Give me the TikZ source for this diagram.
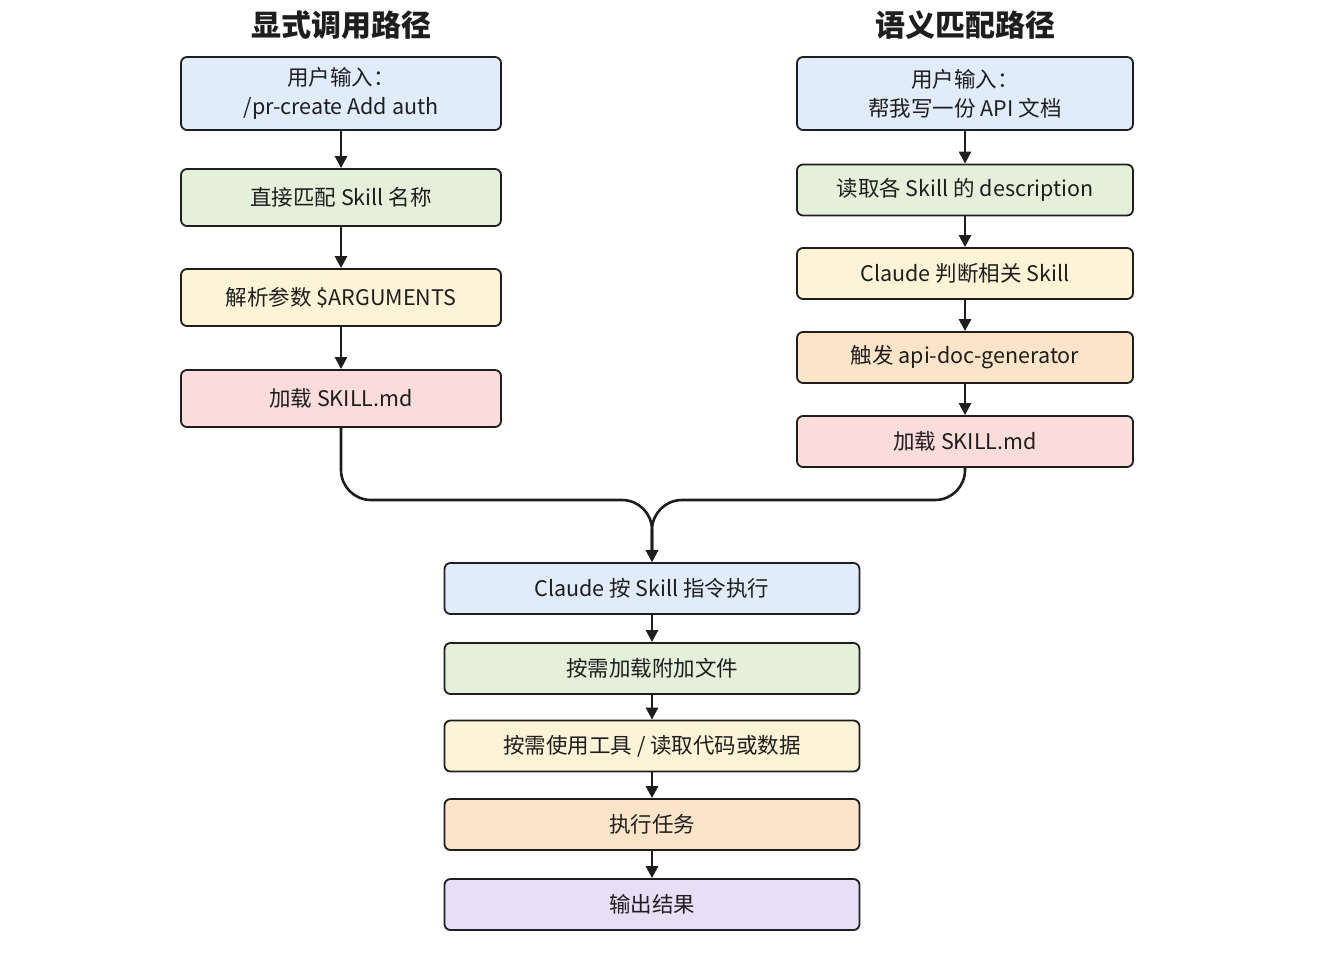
\documentclass[tikz,border=0pt]{standalone}
\usepackage{fontspec}
\setmainfont{Noto Sans CJK SC}
\usetikzlibrary{arrows.meta}
\definecolor{fblue}{RGB}{225,236,250}
\definecolor{fgreen}{RGB}{229,240,219}
\definecolor{fyellow}{RGB}{253,243,215}
\definecolor{forange}{RGB}{252,228,201}
\definecolor{fred}{RGB}{250,221,218}
\definecolor{fpurple}{RGB}{231,223,246}
\definecolor{ink}{RGB}{30,30,30}
\begin{document}
\begin{tikzpicture}[x=1pt,y=-1pt,
    flow/.style={draw=ink,line width=1.8pt,rounded corners=6pt,align=center,
      inner sep=0pt,text=ink,font=\fontsize{21.5}{29}\selectfont},
    lcol/.style={flow,minimum width=320pt,minimum height=57pt},
    rcol/.style={flow,minimum width=336pt,minimum height=51pt},
    bcol/.style={flow,minimum width=415pt,minimum height=51pt},
    arr/.style={-{Triangle[length=12pt,width=12pt]},line width=2.6pt,draw=ink}]
    \useasboundingbox (0,0) rectangle (1329,972);
    % titles
    \node[font=\fontsize{30}{34}\selectfont\bfseries,text=ink] (ltitle) at (341,25) {显式调用路径};
    \node[font=\fontsize{30}{34}\selectfont\bfseries,text=ink] (rtitle) at (965,25) {语义匹配路径};
    % left path
    \node[lcol,fill=fblue,minimum height=73pt] (l1) at (341,93.5) {用户输入：\\/pr-create Add auth};
    \node[lcol,fill=fgreen] (l2) at (341,197.5) {直接匹配 Skill 名称};
    \node[lcol,fill=fyellow] (l3) at (341,297.5) {解析参数 \$ARGUMENTS};
    \node[lcol,fill=fred] (l4) at (341,398.5) {加载 SKILL.md};
    % right path
    \node[rcol,fill=fblue,minimum height=73pt] (r1) at (965,93.5) {用户输入：\\帮我写一份 API 文档};
    \node[rcol,fill=fgreen] (r2) at (965,190) {读取各 Skill 的 description};
    \node[rcol,fill=fyellow] (r3) at (965,273.5) {Claude 判断相关 Skill};
    \node[rcol,fill=forange] (r4) at (965,357.5) {触发 api-doc-generator};
    \node[rcol,fill=fred] (r5) at (965,441.5) {加载 SKILL.md};
    % shared steps
    \node[bcol,fill=fblue] (b1) at (652,588.5) {Claude 按 Skill 指令执行};
    \node[bcol,fill=fgreen] (b2) at (652,668.5) {按需加载附加文件};
    \node[bcol,fill=fyellow] (b3) at (652,746) {按需使用工具 / 读取代码或数据};
    \node[bcol,fill=forange] (b4) at (652,824.5) {执行任务};
    \node[bcol,fill=fpurple] (b5) at (652,904.5) {输出结果};
    \foreach \a/\b in {l1/l2,l2/l3,l3/l4,r1/r2,r2/r3,r3/r4,r4/r5,b1/b2,b2/b3,b3/b4,b4/b5}
      \draw[arr] (\a) -- (\b);
    % merge
    \coordinate (join) at (652,500);
    \draw[arr,rounded corners=30pt] (l4.south) |- (join) -- (b1.north);
    \draw[arr,rounded corners=30pt] (r5.south) |- (join) -- (b1.north);
\end{tikzpicture}
\end{document}
